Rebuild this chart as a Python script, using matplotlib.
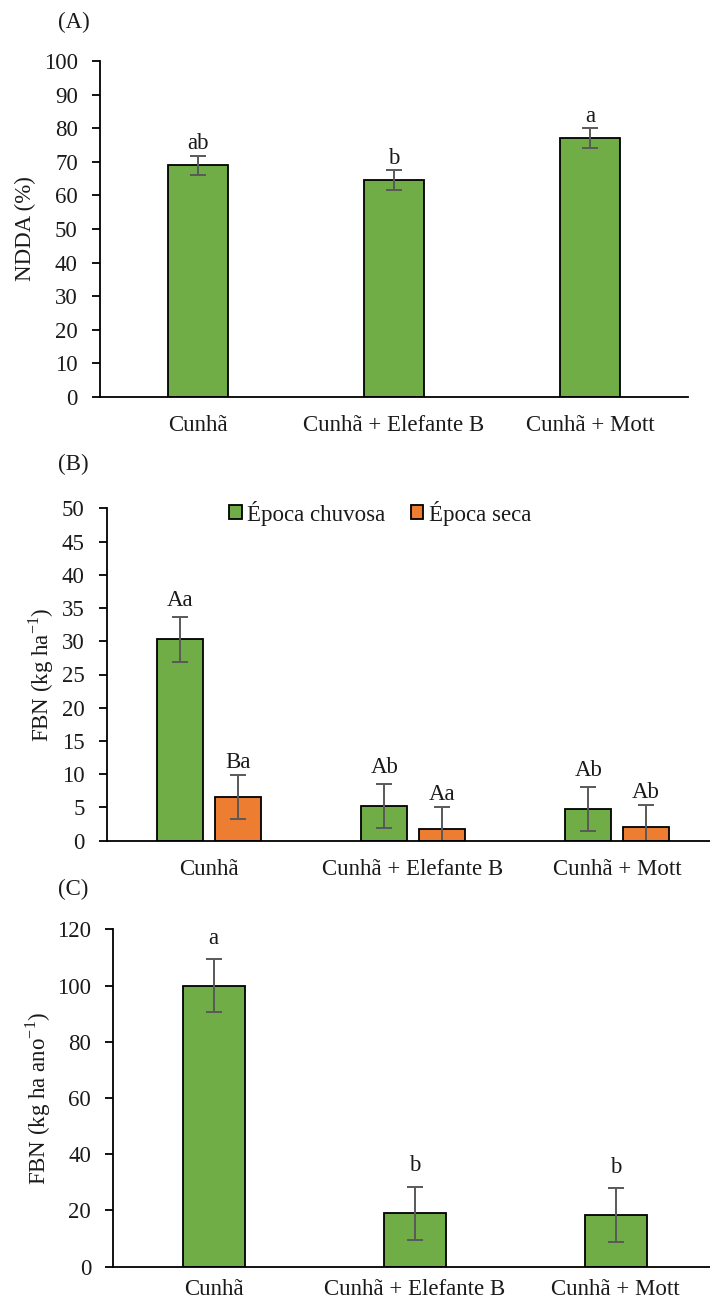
import matplotlib
matplotlib.use("Agg")
import matplotlib.pyplot as plt
import numpy as np

plt.rcParams['font.family'] = ['Liberation Serif', 'DejaVu Serif']
plt.rcParams['mathtext.fontset'] = 'custom'
plt.rcParams['mathtext.rm'] = 'Liberation Serif'

categories = ["Cunhã", "Cunhã + Elefante B", "Cunhã + Mott"]

# Panel A
ndda = [69.0, 64.6, 77.0]
ndda_err = [2.8, 3.0, 3.0]
ndda_letters = ["ab", "b", "a"]

# Panel B
season_names = ["Época chuvosa", "Época seca"]
fbn_rainy = [30.3, 5.2, 4.8]
fbn_rainy_err = [3.35, 3.3, 3.3]
fbn_dry = [6.6, 1.8, 2.0]
fbn_dry_err = [3.3, 3.3, 3.4]
rainy_letters = ["Aa", "Ab", "Ab"]
dry_letters = ["Ba", "Aa", "Ab"]

# Panel C
fbn_year = [99.9, 19.0, 18.4]
fbn_year_err = [9.4, 9.5, 9.5]
year_letters = ["a", "b", "b"]

GREEN = "#70AD47"
ORANGE = "#ED7D31"
ERRC = "#595959"
TXT = "#1a1a1a"
FS = 16.5

fig = plt.figure(figsize=(7.10, 13.01), dpi=100)

def style(ax, ymax, step, xpad=13):
    ax.spines['top'].set_visible(False)
    ax.spines['right'].set_visible(False)
    ax.spines['left'].set_linewidth(1.3)
    ax.spines['bottom'].set_linewidth(1.3)
    ax.set_ylim(0, ymax)
    ax.set_yticks(np.arange(0, ymax + 0.1, step))
    ax.set_xlim(-0.5, 2.5)
    ax.set_xticks(range(3))
    ax.set_xticklabels(categories)
    ax.tick_params(axis='x', length=0, pad=xpad, labelsize=FS, labelcolor=TXT)
    ax.tick_params(axis='y', length=6, width=1.3, pad=10, labelsize=FS, labelcolor=TXT, direction='out')

x = np.arange(3)
ekw = dict(ecolor=ERRC, elinewidth=1.4, capsize=5.5, capthick=1.4)

# ---------- A ----------
axA = fig.add_axes([100/710, 1-397/1301, 588/710, 336/1301])
axA.bar(x, ndda, width=0.31, color=GREEN, edgecolor='black', linewidth=1.3,
        yerr=ndda_err, error_kw=ekw, zorder=2)
for xi, v, e, t in zip(x, ndda, ndda_err, ndda_letters):
    axA.text(xi, v + e + 0.4, t, ha='center', va='bottom', fontsize=FS, color=TXT)
style(axA, 100, 10)
axA.set_ylabel("NDDA (%)", fontsize=FS, color=TXT)
axA.yaxis.set_label_coords(-0.108, 0.5)
fig.text(58/710, 1-22/1301, "(A)", fontsize=FS, color=TXT, va='center', ha='left')

# ---------- B ----------
axB = fig.add_axes([107/710, 1-840.7/1301, 612/710, 332.4/1301])
off = 0.141
bw = 0.226
axB.bar(x - off, fbn_rainy, width=bw, color=GREEN, edgecolor='black', linewidth=1.3,
        yerr=fbn_rainy_err, error_kw=ekw, label=season_names[0], zorder=2)
axB.bar(x + off, fbn_dry, width=bw, color=ORANGE, edgecolor='black', linewidth=1.3,
        yerr=fbn_dry_err, error_kw=ekw, label=season_names[1], zorder=2)
for xi, v, e, t in zip(x, fbn_rainy, fbn_rainy_err, rainy_letters):
    axB.text(xi - off, v + e + 0.9, t, ha='center', va='bottom', fontsize=FS, color=TXT)
for xi, v, e, t in zip(x, fbn_dry, fbn_dry_err, dry_letters):
    axB.text(xi + off, v + e + 0.3, t, ha='center', va='bottom', fontsize=FS, color=TXT)
style(axB, 50, 5)
axB.set_ylabel("FBN (kg ha$^{\\mathdefault{-1}}$)", fontsize=FS, color=TXT)
axB.yaxis.set_label_coords(-0.083, 0.5)
leg = axB.legend(loc='center left', bbox_to_anchor=(229/710, 1-513/1301),
                 bbox_transform=fig.transFigure, ncol=2, frameon=False,
                 fontsize=FS, handlelength=0.55, handleheight=0.55, handletextpad=0.25,
                 columnspacing=1.1, borderpad=0, borderaxespad=0)
for txt in leg.get_texts():
    txt.set_color(TXT)
fig.text(58/710, 1-464/1301, "(B)", fontsize=FS, color=TXT, va='center', ha='left')

# ---------- C ----------
axC = fig.add_axes([113.3/710, 1-1266.7/1301, 603/710, 337.4/1301])
axC.bar(x, fbn_year, width=0.31, color=GREEN, edgecolor='black', linewidth=1.3,
        yerr=fbn_year_err, error_kw=ekw, zorder=2)
for xi, v, e, t in zip(x, fbn_year, fbn_year_err, year_letters):
    axC.text(xi, v + e + 3.8, t, ha='center', va='bottom', fontsize=FS, color=TXT)
style(axC, 120, 20, xpad=9)
axC.set_ylabel("FBN (kg ha ano$^{\\mathdefault{-1}}$)", fontsize=FS, color=TXT)
axC.yaxis.set_label_coords(-0.1, 0.5)
fig.text(58/710, 1-889/1301, "(C)", fontsize=FS, color=TXT, va='center', ha='left')

fig.savefig("out.png", dpi=100)
